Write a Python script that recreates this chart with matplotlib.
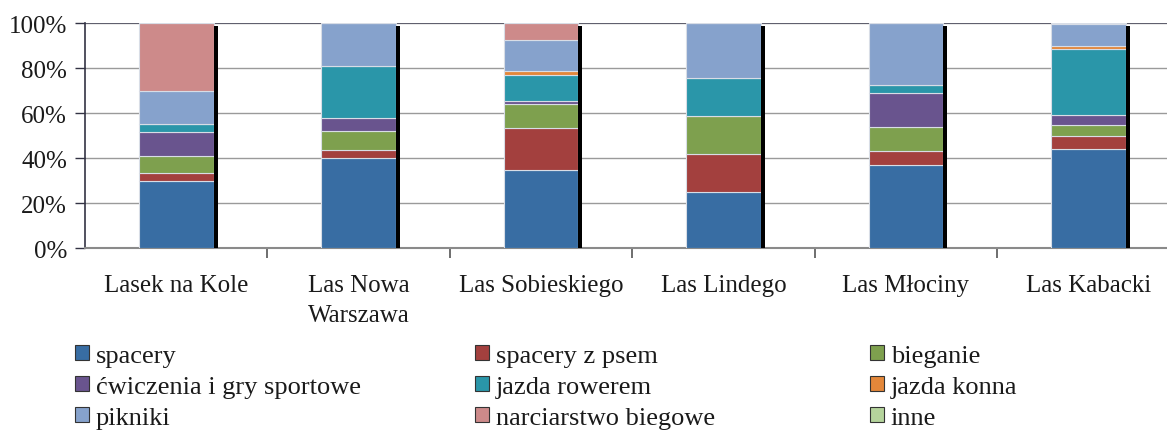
import numpy as np
import matplotlib
matplotlib.use("Agg")
import matplotlib.pyplot as plt
from matplotlib.patches import Patch

plt.rcParams['font.family'] = ['Liberation Serif', 'DejaVu Serif']

forests = ['Lasek na Kole', 'Las Nowa\nWarszawa', 'Las Sobieskiego',
           'Las Lindego', 'Las Młociny', 'Las Kabacki']

activities = ['spacery', 'spacery z psem', 'bieganie',
              'ćwiczenia i gry sportowe', 'jazda rowerem', 'jazda konna',
              'pikniki', 'narciarstwo biegowe', 'inne']

# percent shares per forest, in order of activities
spacery = [30.0, 40.0, 34.5, 25.0, 37.0, 44.0]
spacery_z_psem = [3.5, 3.5, 19.0, 16.8, 6.3, 5.6]
bieganie = [7.5, 8.5, 10.5, 16.8, 10.7, 4.9]
cwiczenia = [10.5, 6.0, 1.2, 0.0, 15.0, 4.5]
jazda_rowerem = [3.5, 23.0, 11.5, 16.8, 3.6, 29.4]
jazda_konna = [0.0, 0.0, 1.9, 0.0, 0.0, 1.3]
pikniki = [15.0, 19.0, 13.7, 24.6, 27.4, 9.7]
narciarstwo = [30.0, 0.0, 7.7, 0.0, 0.0, 0.6]
inne = [0.0, 0.0, 0.0, 0.0, 0.0, 0.0]

series = [spacery, spacery_z_psem, bieganie, cwiczenia, jazda_rowerem,
          jazda_konna, pikniki, narciarstwo, inne]
colors = ['#386DA3', '#A3403E', '#7EA04E', '#69548E', '#2A96A9',
          '#E3873A', '#86A2CC', '#CD8A8A', '#B5D49C']

fig = plt.figure(figsize=(11.67, 4.39), dpi=100)
ax = fig.add_axes([0.0728, 0.4328, 0.938, 0.5125])

x = np.arange(len(forests))
w = 0.41
bottom = np.zeros(len(forests))
for vals, col in zip(series, colors):
    vals = np.array(vals)
    ax.bar(x, vals, w, bottom=bottom, color=col, edgecolor='#D8DDE6',
           linewidth=0.8, zorder=3)
    bottom += vals

# dark shadow on the right side of each bar
sw = 0.022
ax.bar(x + w / 2 + sw / 2, 98.6, sw, color='black', zorder=3)

ax.set_xlim(-0.5, len(forests) - 0.5)
ax.set_ylim(0, 100)
ax.set_yticks(np.arange(0, 101, 20))
ax.set_yticklabels([f'{v}%' for v in range(0, 101, 20)])
ax.yaxis.grid(True, color='#9A9A9A', linewidth=1.0, zorder=0)
ax.set_axisbelow(True)

ax.set_xticks(x)
ax.set_xticklabels(forests, linespacing=1.45)
ax.set_xticks(np.arange(0.5, len(forests) - 0.5, 1), minor=True)
ax.tick_params(axis='x', which='major', length=0, pad=19, labelsize=18,
               labelcolor='#1a1a1a')
ax.tick_params(axis='x', which='minor', length=7, width=1.2,
               color='#555555', direction='out')
ax.tick_params(axis='y', length=7, width=1.0, color='#333344', pad=6,
               labelsize=18, labelcolor='#1a1a1a')

for s in ['top', 'right']:
    ax.spines[s].set_visible(False)
ax.spines['left'].set_color('#333344')
ax.spines['left'].set_linewidth(1.2)
ax.spines['bottom'].set_color('#8A8A8A')
ax.spines['bottom'].set_linewidth(1.5)
ax.axhline(100, color='#555566', linewidth=1.2, zorder=1)

# legend: three columns, filled row by row
handles = [Patch(facecolor=c, edgecolor='#333333', linewidth=0.8, label=a)
           for a, c in zip(activities, colors)]
col_x = [75 / 1167, 475 / 1167, 870 / 1167]
for k, cx in enumerate(col_x):
    idx = [k, k + 3, k + 6]
    leg = fig.legend([handles[i] for i in idx], [activities[i] for i in idx],
                     loc='upper left', bbox_to_anchor=(cx, 0.212),
                     frameon=False, fontsize=19, handlelength=0.53,
                     handleheight=0.53, handletextpad=0.25,
                     labelspacing=0.33, borderpad=0, borderaxespad=0)
    for t in leg.get_texts():
        t.set_color('#1a1a1a')

fig.savefig('out.png', dpi=100)
